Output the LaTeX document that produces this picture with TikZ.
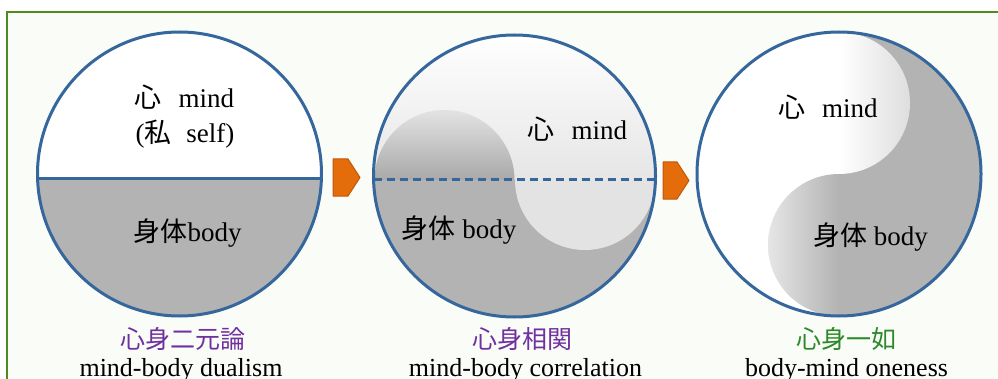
\documentclass[tikz,border=0pt]{standalone}
\usepackage{fontspec}
\setmainfont{Liberation Serif}
\newfontfamily\cjk{Noto Sans CJK JP}
\definecolor{framegreen}{HTML}{4F8A1F}
\definecolor{bgcol}{HTML}{FAFCF7}
\definecolor{ringblue}{HTML}{36679C}
\definecolor{bodygray}{HTML}{B3B3B3}
\definecolor{lightgray2}{HTML}{E3E3E3}
\definecolor{arroworange}{HTML}{E46C0A}
\definecolor{arrowedge}{HTML}{C0580A}
\definecolor{labpurple}{HTML}{7030A0}
\definecolor{labgreen}{HTML}{2A8A2A}
\tikzset{
  ring/.style={draw=ringblue, line width=3pt},
  divider/.style={draw=ringblue, line width=3pt},
  pentarrow/.style={fill=arroworange, draw=arrowedge, line width=1pt, line join=round},
  intext/.style={font=\fontsize{27}{32}\selectfont, inner sep=0pt, anchor=base},
  cjklab/.style={font=\fontsize{25}{30}\cjk, inner sep=0pt},
  englab/.style={font=\fontsize{26}{30}\selectfont, inner sep=0pt, anchor=base},
}
\begin{document}
\begin{tikzpicture}[x=1pt,y=1pt]
\useasboundingbox (0,0) rectangle (998,378);
% frame
\fill[bgcol] (7,-5) rectangle (1010,365.5);
\draw[framegreen, line width=2pt] (7,-5) -- (7,365.5) -- (1010,365.5);

% ---- circle 1: dualism ----
\begin{scope}
  \clip (179.5,204) circle (142);
  \fill[white] (30,199) rectangle (330,350);
  \fill[bodygray] (30,50) rectangle (330,199);
\end{scope}
\draw[divider] (37.6,199) -- (321.4,199);
\draw[ring] (179.5,204) circle (142);
\node[intext] (m1) at (184.5,270) {{\cjk 心}\hspace{10pt} mind};
\node[intext] (s1) at (185,235) {({\cjk 私}\hspace{8pt} self)};
\node[intext] (b1) at (187.5,137) {{\cjk 身体}body};

% ---- circle 2: correlation ----
\begin{scope}
  \clip (514.5,202) circle (141);
  \shade[top color=white, bottom color=white!90!black] (370,198) rectangle (660,345);
  \fill[bodygray] (370,55) rectangle (660,198);
  \shade[top color=lightgray2, bottom color=white!66!black] (374.5,198) arc (180:0:70) -- cycle;
  \fill[lightgray2] (515,198) arc (180:360:70) -- cycle;
\end{scope}
\draw[divider, dash pattern=on 8pt off 5pt] (373.5,198) -- (655.5,198);
\draw[ring] (514.5,202) circle (141);
\node[intext] (m2) at (577.5,238) {{\cjk 心}\hspace{10pt} mind};
\node[intext] (b2) at (459,140) {{\cjk 身体} body};

% ---- circle 3: oneness ----
\begin{scope}
  \clip (839,204) circle (142);
  \fill[white] (690,55) rectangle (990,350);
  \fill[bodygray] (839,55) rectangle (990,350);
  \shade[left color=white, right color=white!87!black] (839,346) arc (90:-90:71) -- cycle;
  \shade[left color=white!90!black, right color=bodygray] (839,204) arc (90:270:71) -- cycle;
\end{scope}
\draw[ring] (839,204) circle (142);
\node[intext] (m3) at (828,260) {{\cjk 心}\hspace{10pt} mind};
\node[intext] (b3) at (870.5,133) {{\cjk 身体} body};

% ---- arrows ----
\draw[pentarrow] (333,182) -- (348,182) -- (360,200.5) -- (348,219) -- (333,219) -- cycle;
\draw[pentarrow] (663,179) -- (677,179) -- (689,197.5) -- (677,216) -- (663,216) -- cycle;

% ---- labels ----
\node[cjklab, text=labpurple] (l1) at (182.5,39) {心身二元論};
\node[englab] (e1) at (181,1.5) {mind-body dualism};
\node[cjklab, text=labpurple] (l2) at (522.5,39) {心身相関};
\node[englab] (e2) at (525.5,1.5) {mind-body correlation};
\node[cjklab, text=labgreen] (l3) at (846.5,39) {心身一如};
\node[englab] (e3) at (846.5,1.5) {body-mind oneness};
\end{tikzpicture}
\end{document}
